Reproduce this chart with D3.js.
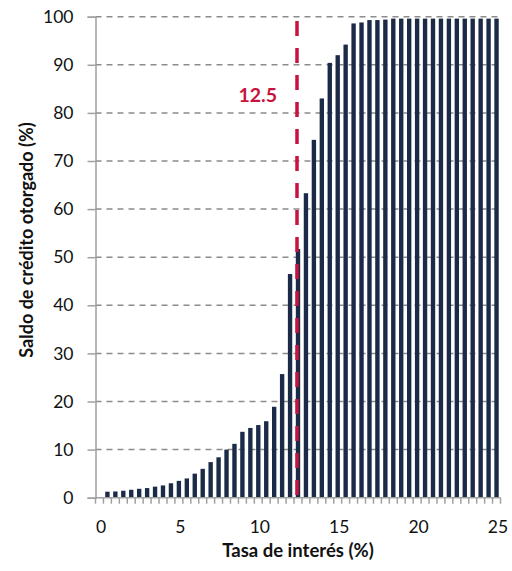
<!DOCTYPE html>
<html>
<head>
<meta charset="utf-8">
<script src="https://cdn.jsdelivr.net/npm/d3@7"></script>
<style>
  body { margin: 0; background: #fff; }
  svg { display: block; font-family: Lato, "Open Sans", sans-serif; }
</style>
</head>
<body>
<svg id="chart" width="512" height="571"></svg>
<script>
// Categories: interest rate (%) 0 to 25 in steps of 0.5
const rates = ["0","0.5","1","1.5","2","2.5","3","3.5","4","4.5","5","5.5","6","6.5","7","7.5","8","8.5","9","9.5","10","10.5","11","11.5","12","12.5","13","13.5","14","14.5","15","15.5","16","16.5","17","17.5","18","18.5","19","19.5","20","20.5","21","21.5","22","22.5","23","23.5","24","24.5","25"];
// Cumulative share of credit granted (%)
const credit = [null,1.25,1.3,1.45,1.65,1.85,2.0,2.3,2.55,3.0,3.5,4.0,5.0,6.0,7.4,8.4,10.0,11.2,13.7,14.5,15.1,15.9,18.9,25.7,46.5,51.7,63.3,74.4,83.0,90.4,92.0,94.2,98.6,98.8,99.3,99.3,99.4,99.6,99.6,99.6,99.6,99.6,99.6,99.6,99.6,99.6,99.6,99.6,99.6,99.6,99.6];
const xTickLabels = ["0","5","10","15","20","25"];
const yTicks = [0,10,20,30,40,50,60,70,80,90,100];
const threshold = "12.5";
const thresholdLabel = "12.5";
const xTitle = "Tasa de interés (%)";
const yTitle = "Saldo de crédito otorgado (%)";

(function () {
const svg = d3.select("#chart");
const mLeft = 95.5, mRight = 500.5, mTop = 16.7, mBottom = 497.7;

const x = d3.scaleBand().domain(rates).range([mLeft, mRight]).paddingInner(0.45).paddingOuter(0.225);
const xb = d3.scaleBand().domain(rates).range([mLeft, mRight]);
const y = d3.scaleLinear().domain([0, 100]).range([mBottom, mTop]);

// gridlines
svg.append("g").selectAll("line").data(yTicks.filter(d => d > 0)).join("line")
  .attr("x1", mLeft).attr("x2", mRight)
  .attr("y1", d => y(d)).attr("y2", d => y(d))
  .attr("stroke", "#8c8c8c").attr("stroke-width", 1.5)
  .attr("stroke-dasharray", "6,5");

// bars
svg.append("g").selectAll("rect").data(rates.map((r, i) => ({r, v: credit[i]})).filter(d => d.v != null)).join("rect")
  .attr("x", d => x(d.r)).attr("width", x.bandwidth())
  .attr("y", d => y(d.v)).attr("height", d => y(0) - y(d.v))
  .attr("fill", "#1b2a47");

// y axis
const yAxis = svg.append("g").attr("transform", `translate(${mLeft},0)`)
  .call(d3.axisLeft(y).tickValues(yTicks).tickSize(8).tickPadding(14));
yAxis.select(".domain").attr("stroke", "#a0a0a0").attr("stroke-width", 1.5);
yAxis.selectAll(".tick line").attr("stroke", "#a0a0a0").attr("stroke-width", 1.5);
yAxis.selectAll("text").attr("font-size", 17.5).attr("fill", "#111").attr("font-family", "Lato, sans-serif");

// x axis: minor ticks at category boundaries
const xAxisG = svg.append("g");
xAxisG.append("line").attr("x1", mLeft).attr("x2", mRight).attr("y1", mBottom).attr("y2", mBottom)
  .attr("stroke", "#a0a0a0").attr("stroke-width", 1.5);
const boundaries = rates.map(r => xb(r)).concat([mRight]);
xAxisG.selectAll("line.tk").data(boundaries).join("line").attr("class", "tk")
  .attr("x1", d => d).attr("x2", d => d).attr("y1", mBottom).attr("y2", mBottom + 6)
  .attr("stroke", "#a0a0a0").attr("stroke-width", 1.5);
xAxisG.selectAll("text").data(xTickLabels).join("text")
  .attr("x", d => xb(d) + xb.bandwidth() / 2 + 1.5)
  .attr("y", 532.5)
  .attr("text-anchor", "middle").attr("font-size", 17.5).attr("fill", "#111")
  .text(d => d);

// threshold line
const tx = xb(threshold) + xb.bandwidth() / 2 - 1;
svg.append("line").attr("x1", tx).attr("x2", tx).attr("y1", 21).attr("y2", 506)
  .attr("stroke", "#c8133e").attr("stroke-width", 3.5)
  .attr("stroke-dasharray", "15,12");
svg.append("text").attr("x", tx - 20).attr("y", 101.5)
  .attr("text-anchor", "end").attr("font-size", 19.5).attr("font-weight", "bold")
  .attr("fill", "#c8133e").text(thresholdLabel);

// axis titles
svg.append("text").attr("x", 298).attr("y", 557)
  .attr("text-anchor", "middle").attr("font-size", 18.5).attr("font-weight", "bold")
  .attr("fill", "#111").text(xTitle);
svg.append("text").attr("transform", "translate(33,240) rotate(-90)")
  .attr("text-anchor", "middle").attr("font-size", 18).attr("font-weight", "bold")
  .attr("fill", "#111").text(yTitle);
})();
</script>
</body>
</html>
